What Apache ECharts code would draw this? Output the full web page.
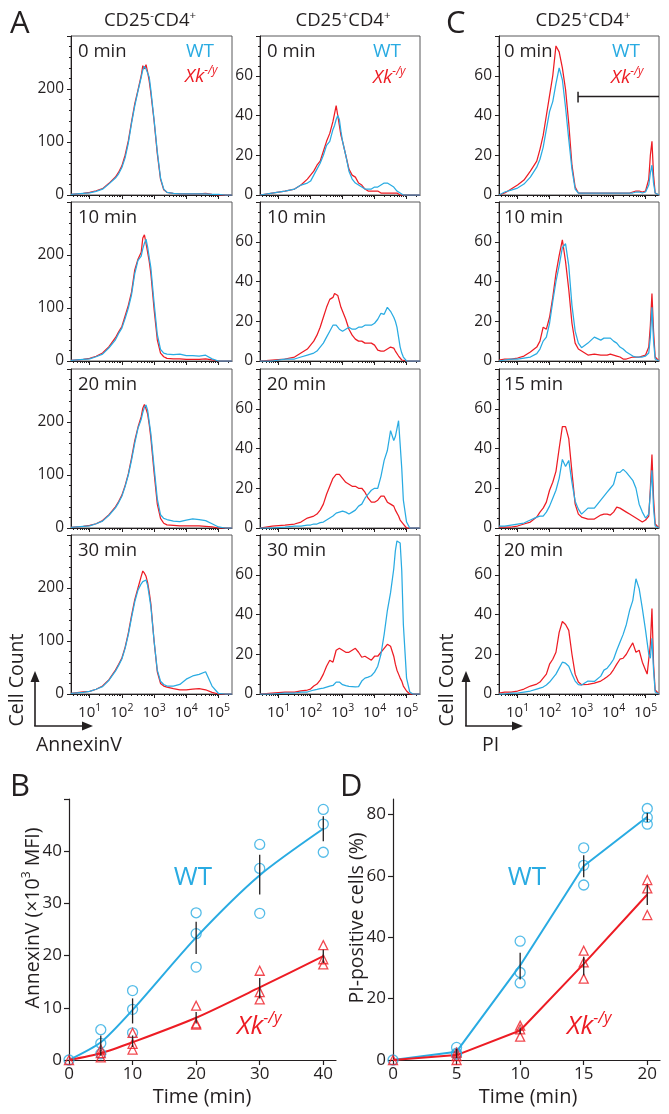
<!DOCTYPE html>
<html><head><meta charset="utf-8">
<script src="https://cdn.jsdelivr.net/npm/echarts@6/dist/echarts.min.js"></script>
<style>html,body{margin:0;padding:0;background:#fff}#c{width:669px;height:1114px}</style>
</head><body><div id="c"></div>
<script>
// ---------------- DATA ----------------
// Histogram x positions are log10(fluorescence)
const xA1 = [0.42,0.8,1.0,1.2,1.4,1.6,1.8,1.9,2.0,2.1,2.2,2.3,2.4,2.5,2.6,2.65,2.7,2.75,2.8,2.85,2.9,3.0,3.1,3.2,3.3,3.4,3.6,3.8,4.0,4.2,4.4,4.6,4.8,5.0,5.2,5.42];
const a1KO0 = [1,3,5,8,12,22,34,43,55,75,102,138,172,198,225,244,238,246,232,215,192,140,78,30,10,5,3,2,2,2,2,3,1,0,0,0];
const a1WT0 = [1,3,4,7,11,21,32,40,52,70,98,135,168,196,222,236,243,238,240,222,198,142,82,32,11,5,3,2,2,2,2,2,1,1,0,0];
const a1KO1 = [1,3,5,9,15,27,44,55,65,85,105,130,172,192,205,232,238,222,205,188,165,98,40,15,8,5,4,4,3,3,3,4,2,0,0,0];
const a1WT1 = [1,3,4,8,13,25,40,52,62,80,100,125,165,190,198,212,222,230,215,195,176,110,50,22,15,13,12,13,10,10,9,11,4,0,0,0];
const a1KO2 = [1,3,5,8,14,25,40,50,62,80,102,132,165,190,210,226,233,225,215,195,170,105,45,18,9,6,5,4,4,4,4,3,2,0,0,0];
const a1WT2 = [1,3,4,8,13,24,38,48,60,78,100,128,160,188,205,218,228,232,222,200,178,115,55,25,18,16,13,12,15,17,16,14,8,2,0,0];
const a1KO3 = [1,4,5,9,15,27,45,56,68,88,115,148,178,200,222,232,228,222,210,192,170,100,42,20,15,13,10,8,8,9,10,8,3,0,0,0];
const a1WT3 = [1,3,5,9,14,26,43,54,66,86,112,144,174,196,208,212,214,215,205,185,165,100,45,24,18,15,15,18,28,34,37,42,15,1,0,0];

const xA2 = [0.42,0.8,1.2,1.5,1.7,1.9,2.0,2.1,2.2,2.3,2.4,2.5,2.6,2.7,2.75,2.8,2.85,2.9,2.95,3.0,3.1,3.2,3.3,3.4,3.5,3.6,3.7,3.8,3.9,4.0,4.1,4.2,4.3,4.4,4.5,4.6,4.65,4.7,4.75,4.8,4.85,4.9,5.0,5.1,5.2,5.42];
const a2KO0 = [0,1,2,3,5,8, 10,12,15,17,22,27,31, 37,41,45,40,35,30, 27,20,13,10,9,6,5,3,2,2,2,2,1,1,1,1,1, 1,1,0,0,0,0, 0,0,0,0];
const a2WT0 = [0,1,2,3,5,6, 7,10,13,16,20,25,27, 33,35,38,40,38,32, 27,20,12,8,6,5,4,3,3,3,4,4,5,6,6,5,4, 3,2,1,1,0,0, 0,0,0,0];
const a2KO1 = [0,0.5,1,2,4,6, 8,10,13,17,22,27,31, 32,34,35,33,30,27, 25,21,16,13,11,10,10,9,9,9,8,5.5,5,5,6,7,6.5, 5,4,2.5,1.5,0.5,0, 0,0,0,0];
const a2WT1 = [0,0,1,1,2,3, 3.5,4,5,7,9,12,15, 18,18,18,17,16,15, 15,16,17,16,16,17,17,18,18,18,19,21,24,23.5,27,25,22, 20,17,12,7,4,2, 0,0,0,0];
const a2KO2 = [0,1,1.5,2,3,5, 5.5,6,7,9,12,17,21, 25,26,27,28,27,26, 25,23,22,21,21,20,20,18,15,13,13,14,16,16,13,12,11, 9,8,6,4,3,2, 0,0,0,0];
const a2WT2 = [0,0,0.5,1,1,1.5, 1.5,2,2,2.7,3,4,5, 6,7,7.5,7.7,8,8.5, 8.5,8,7,8,9,11,12,15,17,19,20,20,26,34,39,49,44, 46,50,54,42,30,14, 3,0,0,0];
const a2KO3 = [0,0.5,1,1,1.6,2, 2.5,4,5,7,10,14,17, 16,19,22,23,23,22, 22,21,21,22,23,21,18.5,19,18,17,19,19,21,23,25,24,19, 15,12,10,8,6.5,4, 1.5,0,0,0];
const a2WT3 = [0,0,0.5,0.5,1,1, 1.5,2,2.3,2.7,3,3.5,4, 4.3,5,6,6.5,6,5, 4.7,4.2,3.8,3.7,3.6,3.7,6.5,8,8.5,9.2,11,14,20,30,42,51,63, 72,77,77,76,62,35, 8,1,0,0];

const xC = [0.42,0.6,0.8,1.0,1.2,1.4,1.6, 1.7,1.8,1.9,2.0,2.1,2.2,2.3,2.4,2.5,2.6,2.7,2.8,2.9,3.0, 3.2,3.4,3.6, 3.7,3.8,3.9,4.0,4.1,4.2,4.3,4.4,4.5,4.6,4.7,4.8,4.9,5.0, 5.05,5.1,5.15,5.2,5.25,5.3,5.42];
const cKO0 = [0,1,3,5,7.5,12,17, 23,30,40,50,60,75,72,64,53,36,15,4,1,1, 1,1,1, 1,1,1,1,1,1,1,1,1,1.5,2,2,1.5,2, 3,8,20,27,10,1,0];
const cWT0 = [0,1.5,2.5,3.5,5.5,9,14, 18,24,33,42,47,56,64,58,44,28,13,3,1,1, 1,1,1, 1,1,1,1,1,1,1,1,1,1,1.5,1.5,1,1.5, 2,5,11,15,6,1,0];
const cKO1 = [0.5,1,1,1.5,2.5,4.5,7, 10,17,16,22,32,44,53,61,50,36,19,9,6,5, 3,3.5,3, 3,3,3.5,3,2.5,2,1,1,1.5,2,2,2,2.5,3, 4,7,18,34,15,2,0];
const cWT1 = [0,0.5,1,1,1.5,2,3.7, 6,10,12,19,30,40,48,57,59,48,28,15,9,6.7, 9,12,10.5, 11.5,11.5,11.5,10,9,7,6,4.5,3.5,2.5,2,2,2,2.5, 3,4,12,27,10,1,0];
const cKO2 = [0.5,0.5,0.5,1,2,3,5.5, 8,10,13,19,23,28.5,40,51,51,45,28,12,7,5.5, 4.5,4.5,6.5, 7,7,6.5,8,10.5,10,9,8,7,6,5,4,3,4, 5,6,20,37,15,2,0];
const cWT2 = [1,1,1.5,2,2.5,4,5.5, 6,6,8,11,15,19,25,34.5,31,34,23,13.5,9.5,7, 10,10,14, 16,18,20,22,28,28,29.5,28,26,24,20,12,8,5, 5,7,18,29,10,1,0];
const cKO3 = [0.5,1,1,1.5,2.5,4,5, 6,8,10,15,17.5,21,31,36.5,35,32,20,10,6,4.7, 4.8,5.5,6.5, 7.5,8.7,10,12.3,15,17.5,18,20,23,25.7,21,22,16,12, 10,10,25,43,15,2,0];
const cWT3 = [0,0,0.5,0.5,1,1.5,2.5, 3,3.5,4.5,6,8,10,13,16,15.5,14,10,6.5,4.7,4.5, 6.5,6.3,9, 12,13,15,17.5,22,26,30,35,42,47,58,53,43,32, 26,20,18,28,12,1,0];

// PI gate in panel C, 0 min
const gateX = [2.89, 5.42];
const gateY = 49.5;
const gateTickY = [46.5, 52];

const timesA = ['0 min','10 min','20 min','30 min'];
const timesC = ['0 min','10 min','15 min','20 min'];
const histXTicks = [1,2,3,4,5];

// Panel B (AnnexinV MFI, x10^3)
const bT = [0,5,10,20,30,40];
const bWTmean = [0,3.4,9.6,23.5,35.4,44.3];
const bKOmean = [0,1.3,3.4,8.1,13.9,19.9];
const bWTrep = [[0],[5.8,3.2,1.2],[13.3,9.7,5.2],[28.2,24.2,17.8],[41.3,36.7,28.1],[48.0,45.2,39.8]];
const bKOrep = [[0],[2.0,1.3,0.5],[5.2,3.1,2.0],[10.4,7.0,6.8],[17.1,13.0,11.6],[22.0,19.3,18.3]];
const bErrT = [5,10,20,30,40];
const bWTlo = [2.1,7.0,20.3,31.7,41.9];
const bWThi = [4.7,11.8,26.5,39.3,46.7];
const bKOlo = [0.8,2.5,7.0,11.8,18.6];
const bKOhi = [2.0,4.7,9.2,15.7,21.1];
const bXTicks = [0,10,20,30,40];
const bYTicks = [0,10,20,30,40,50];
const bYLabels = [0,10,20,30,40];

// Panel D (PI-positive %)
const dT = [0,5,10,15,20];
const dWTmean = [0,2.7,30.8,63.2,79.2];
const dKOmean = [0,1.6,9.6,31.3,53.9];
const dWTrep = [[0],[4.1,2.2,1.8],[38.7,28.5,25.1],[69.1,63.4,57.0],[81.9,79.0,76.8]];
const dKOrep = [[0],[2.4,1.3,0],[11.2,10.0,7.6],[35.6,31.8,26.5],[58.6,55.9,47.2]];
const dErrT = [5,10,15,20];
const dWTlo = [1.8,26.2,59.5,77.5];
const dWThi = [3.6,34.9,66.7,80.4];
const dKOlo = [0.6,8.5,27.6,50.5];
const dKOhi = [2.4,10.6,33.6,57.0];
const dXTicks = [0,5,10,15,20];
const dYTicks = [0,20,40,60,80];

// ---------------- STYLE / LAYOUT ----------------
const FONT = '"Open Sans", "Liberation Sans", sans-serif';
const BLUE = '#29abe2', RED = '#ed1c24', INK = '#231f20';
const X_MIN = 0.42, X_MAX = 5.42;
const minorExps = [];
for (let d = 0; d <= 5; d++) for (let m = 2; m <= 9; m++) {
  const e = d + Math.log10(m);
  if (e > X_MIN && e < X_MAX) minorExps.push(e);
}
const rowTops = [36, 202, 369, 535], PH = 159;
const cols = [
  {left:71, width:161, xs:xA1, ymax:300, yint:100, ysplit:5, ko:[a1KO0,a1KO1,a1KO2,a1KO3], wt:[a1WT0,a1WT1,a1WT2,a1WT3], times:timesA, tx:7},
  {left:260, width:160, xs:xA2, ymax:80, yint:20, ysplit:4, ko:[a2KO0,a2KO1,a2KO2,a2KO3], wt:[a2WT0,a2WT1,a2WT2,a2WT3], times:timesA, tx:7},
  {left:499, width:160, xs:xC, ymax:80, yint:20, ysplit:4, ko:[cKO0,cKO1,cKO2,cKO3], wt:[cWT0,cWT1,cWT2,cWT3], times:timesC, tx:5}
];

const grids = [], xAxes = [], yAxes = [], series = [], els = [];

function histLine(xs, ys, color, xi, yi) {
  return {type:'line', xAxisIndex:xi, yAxisIndex:yi, data: xs.map((x,i)=>[x, ys[i]]),
    showSymbol:false, symbol:'none', silent:true, lineStyle:{color, width:1.25}, z:2};
}

let g = 0;
cols.forEach((c, ci) => {
  rowTops.forEach((top, ri) => {
    grids.push({left:c.left, top, width:c.width, height:PH, show:true, borderColor:'#58595b', borderWidth:1,
      backgroundColor:'rgba(0,0,0,0)', containLabel:false, outerBoundsMode:'none'});
    xAxes.push({gridIndex:g, type:'value', position:'bottom', min:X_MIN, max:X_MAX,
      axisLine:{show:true, onZero:false, lineStyle:{color:INK, width:1}},
      axisTick:{show:true, length:4, customValues:histXTicks, lineStyle:{color:INK, width:1}},
      axisLabel:{show: ri===3, customValues:histXTicks, margin:9, color:INK,
        formatter: v => '{b|10}{s|' + Math.round(v) + '}',
        rich:{b:{fontSize:15, fontFamily:FONT, color:INK, lineHeight:20},
              s:{fontSize:10.5, fontFamily:FONT, color:INK, lineHeight:11, verticalAlign:'top'}}},
      splitLine:{show:false}});
    xAxes.push({gridIndex:g, type:'value', position:'bottom', min:X_MIN, max:X_MAX,
      axisLine:{show:false}, axisTick:{show:true, length:2, customValues:minorExps, lineStyle:{color:INK, width:1}},
      axisLabel:{show:false}, splitLine:{show:false}});
    yAxes.push({gridIndex:g, type:'value', min:0, max:c.ymax, interval:c.yint,
      axisLine:{show:true, onZero:false, lineStyle:{color:INK, width:1}},
      axisTick:{show:true, length:4, lineStyle:{color:INK, width:1}},
      minorTick:{show:true, splitNumber:c.ysplit, length:2, lineStyle:{color:INK, width:1}},
      axisLabel:{fontSize:15.5, fontFamily:FONT, color:INK, margin:7, showMaxLabel:false},
      splitLine:{show:false}, minorSplitLine:{show:false}});
    series.push(histLine(c.xs, c.ko[ri], RED, 2*g, g));
    series.push(histLine(c.xs, c.wt[ri], BLUE, 2*g, g));
    els.push({type:'text', x:c.left + c.tx, y:top + 16,
      style:{text:c.times[ri], fontSize:18.5, fontFamily:FONT, fill:INK, textVerticalAlign:'middle'}});
    g++;
  });
});

// gate on PI panel (col C, row 0)
const gateGrid = 8;
series.push({type:'line', xAxisIndex:2*gateGrid, yAxisIndex:gateGrid, data: gateX.map(x=>[x, gateY]),
  showSymbol:false, symbol:'none', silent:true, lineStyle:{color:INK, width:1.5}, z:3});
series.push({type:'line', xAxisIndex:2*gateGrid, yAxisIndex:gateGrid, data: gateTickY.map(y=>[gateX[0], y]),
  showSymbol:false, symbol:'none', silent:true, lineStyle:{color:INK, width:1.5}, z:3});

// ---------------- B and D ----------------
function timeChart(gi, left, xmax, ymax, xTicks, yTicks, yLabels) {
  grids.push({left, top:799, width:267, height:261, show:false, containLabel:false, outerBoundsMode:'none'});
  xAxes.push({gridIndex:gi, type:'value', min:0, max:xmax,
    axisLine:{show:true, onZero:false, lineStyle:{color:INK, width:1.2}},
    axisTick:{show:true, length:5, customValues:xTicks, lineStyle:{color:INK, width:1.2}},
    axisLabel:{customValues:xTicks, fontSize:17, fontFamily:FONT, color:INK, margin:6},
    splitLine:{show:false}});
  yAxes.push({gridIndex:gi, type:'value', min:0, max:ymax,
    axisLine:{show:true, onZero:false, lineStyle:{color:INK, width:1.2}},
    axisTick:{show:true, length:5, customValues:yTicks, lineStyle:{color:INK, width:1.2}},
    axisLabel:{customValues:yLabels, fontSize:17, fontFamily:FONT, color:INK, margin:7},
    splitLine:{show:false}});
}
timeChart(12, 69, 42, 50, bXTicks, bYTicks, bYLabels);
timeChart(13, 393, 21, 85, dXTicks, dYTicks, dYTicks);

function meanLine(xi, yi, ts, means, color, smooth) {
  return {type:'line', xAxisIndex:xi, yAxisIndex:yi, data: ts.map((t,i)=>[t, means[i]]), smooth,
    showSymbol:false, symbol:'none', silent:true, lineStyle:{color, width:2}, z:2};
}
function reps(xi, yi, ts, rep, color, symbol, size) {
  const data = [];
  ts.forEach((t,i)=>rep[i].forEach(v=>data.push([t, v])));
  return {type:'scatter', xAxisIndex:xi, yAxisIndex:yi, data, symbol, symbolSize:size, silent:true,
    itemStyle:{color:'rgba(255,255,255,0)', borderColor:color, borderWidth:1.3}, z:3};
}
function errBars(xi, yi, ts, lo, hi) {
  return {type:'custom', xAxisIndex:xi, yAxisIndex:yi, silent:true, z:4,
    data: ts.map((t,i)=>[t, lo[i], hi[i]]), encode:{x:0, y:[1,2]},
    renderItem: (params, api) => {
      const p1 = api.coord([api.value(0), api.value(1)]);
      const p2 = api.coord([api.value(0), api.value(2)]);
      return {type:'line', shape:{x1:p1[0], y1:p1[1], x2:p2[0], y2:p2[1]}, style:{stroke:INK, lineWidth:1.3}};
    }};
}
series.push(meanLine(24, 12, bT, bWTmean, BLUE, 0.25));
series.push(meanLine(24, 12, bT, bKOmean, RED, 0.25));
series.push(reps(24, 12, bT, bWTrep, BLUE, 'circle', 10));
series.push(reps(24, 12, bT, bKOrep, RED, 'triangle', 9));
series.push(errBars(24, 12, bErrT, bWTlo, bWThi));
series.push(errBars(24, 12, bErrT, bKOlo, bKOhi));

series.push(meanLine(25, 13, dT, dWTmean, BLUE, false));
series.push(meanLine(25, 13, dT, dKOmean, RED, false));
series.push(reps(25, 13, dT, dWTrep, BLUE, 'circle', 10));
series.push(reps(25, 13, dT, dKOrep, RED, 'triangle', 9));
series.push(errBars(25, 13, dErrT, dWTlo, dWThi));
series.push(errBars(25, 13, dErrT, dKOlo, dKOhi));

// ---------------- TEXT / ANNOTATIONS ----------------
function txt(x, y, text, size, color, extra) {
  return Object.assign({type:'text', x, y, style:Object.assign({text, fontSize:size, fontFamily:FONT, fill:color, textVerticalAlign:'middle'}, extra||{})});
}
function xk(x, y, size) {
  return {type:'text', x, y, style:{text:'{i|Xk}{s|-/y}', textVerticalAlign:'middle',
    rich:{i:{fontSize:size, fontFamily:FONT, fontStyle:'italic', fill:RED, lineHeight:size*1.25},
          s:{fontSize:size*0.62, fontFamily:FONT, fontStyle:'italic', fill:RED, lineHeight:size*0.7, verticalAlign:'top'}}}};
}
function cdTitle(cx, y, sup1) {
  return {type:'text', x:cx, y, style:{text:'{a|CD25}{s|' + sup1 + '}{a|CD4}{s|+}', textAlign:'center', textVerticalAlign:'middle',
    rich:{a:{fontSize:18.5, fontFamily:FONT, fill:INK, lineHeight:23},
          s:{fontSize:11.5, fontFamily:FONT, fill:INK, lineHeight:11, verticalAlign:'top'}}}};
}
els.push(txt(10, 24, 'A', 31, INK));
els.push(txt(446, 24, 'C', 31, INK));
els.push(txt(10, 787, 'B', 31, INK));
els.push(txt(340, 787, 'D', 31, INK));
els.push(cdTitle(150, 21, '-'));
els.push(cdTitle(343, 21, '+'));
els.push(cdTitle(583, 21, '+'));
// legends inside first-row panels
els.push(txt(186, 52, 'WT', 19, BLUE));
els.push(xk(185, 77, 19));
els.push(txt(373, 52, 'WT', 19, BLUE));
els.push(xk(373, 78, 19));
els.push(txt(612, 52, 'WT', 19, BLUE));
els.push(xk(611, 78, 19));
// Cell count arrows
function arrows(x0, y0, xTip, yTip) {
  return [
    {type:'line', shape:{x1:x0, y1:y0, x2:x0, y2:yTip + 8}, style:{stroke:INK, lineWidth:1.6}},
    {type:'polygon', shape:{points:[[x0, yTip], [x0 - 4.5, yTip + 11], [x0 + 4.5, yTip + 11]]}, style:{fill:INK}},
    {type:'line', shape:{x1:x0 - 0.8, y1:y0, x2:xTip - 8, y2:y0}, style:{stroke:INK, lineWidth:1.6}},
    {type:'polygon', shape:{points:[[xTip, y0], [xTip - 11, y0 - 4.5], [xTip - 11, y0 + 4.5]]}, style:{fill:INK}}
  ];
}
arrows(35, 726, 93, 671).forEach(e => els.push(e));
arrows(466, 726, 523, 671).forEach(e => els.push(e));
els.push(Object.assign(txt(17, 680, 'Cell Count', 19.5, INK, {textAlign:'center'}), {rotation:Math.PI/2}));
els.push(Object.assign(txt(447, 680, 'Cell Count', 19.5, INK, {textAlign:'center'}), {rotation:Math.PI/2}));
els.push(txt(36, 745, 'AnnexinV', 19.5, INK));
els.push(txt(482, 745, 'PI', 19.5, INK));
// B / D labels
els.push({type:'text', x:33, y:918, rotation:Math.PI/2, style:{text:'{a|AnnexinV (×10}{s|3}{a| MFI)}', textAlign:'center', textVerticalAlign:'middle',
  rich:{a:{fontSize:19.5, fontFamily:FONT, fill:INK, lineHeight:24}, s:{fontSize:12, fontFamily:FONT, fill:INK, lineHeight:12, verticalAlign:'top'}}}});
els.push(Object.assign(txt(357, 918, 'PI-positive cells (%)', 19.5, INK, {textAlign:'center'}), {rotation:Math.PI/2}));
els.push(txt(202, 1097, 'Time (min)', 20, INK, {textAlign:'center'}));
els.push(txt(528, 1097, 'Time (min)', 20, INK, {textAlign:'center'}));
els.push(txt(193, 878, 'WT', 26, BLUE, {textAlign:'center'}));
els.push(xk(237, 1027, 26));
els.push(txt(527, 878, 'WT', 26, BLUE, {textAlign:'center'}));
els.push(xk(567, 1027, 26));

const chart = echarts.init(document.getElementById('c'), null, {renderer:'canvas'});
chart.setOption({
  animation:false,
  backgroundColor:'#ffffff',
  textStyle:{fontFamily:FONT},
  grid:grids, xAxis:xAxes, yAxis:yAxes, series,
  graphic:{elements:els}
});
</script>
</body></html>
